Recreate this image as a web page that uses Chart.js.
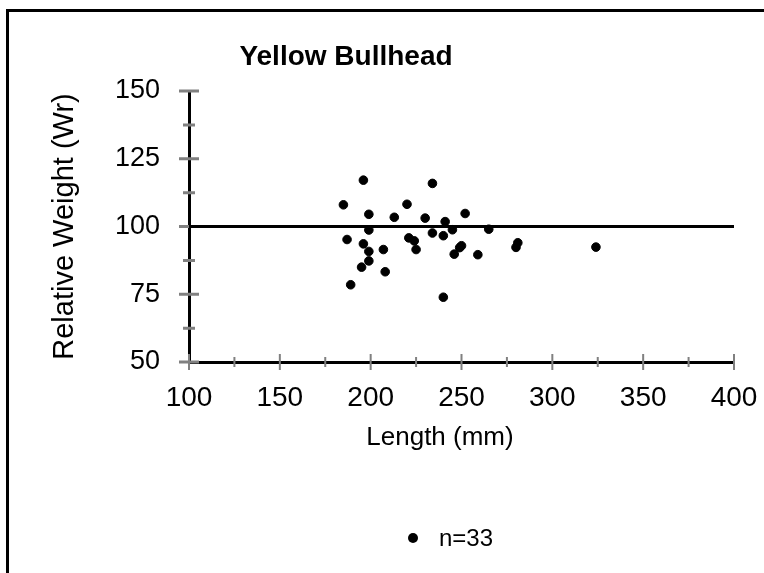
<!DOCTYPE html>
<html>
<head>
<meta charset="utf-8">
<script src="https://cdn.jsdelivr.net/npm/chart.js@4.4.1/dist/chart.umd.min.js"></script>
<style>
  html, body { margin: 0; padding: 0; background: #fff; overflow: hidden; }
  #wrap { position: relative; width: 764px; height: 573px; overflow: hidden; }
  #frame { position: absolute; left: 6px; top: 9px; width: 900px; height: 700px; border: 3px solid #000; box-sizing: border-box; }
  canvas { position: absolute; left: 0; top: 0; }
</style>
</head>
<body>
<div id="wrap">
  <div id="frame"></div>
  <canvas id="chart" width="764" height="573"></canvas>
</div>
<script>
/* ---- data ---- */
const chartTitle = 'Yellow Bullhead';
const seriesLabel = 'n=33';
const xTitle = 'Length (mm)';
const yTitle = 'Relative Weight (Wr)';

const lengthMm = [196, 234, 185, 220, 199, 213, 230, 252, 241, 199, 245, 234, 240, 187, 221, 224, 196,
  199, 207, 225, 250, 249, 246, 259, 199, 195, 208, 189, 240, 265, 281, 280, 324];
const relWeight = [117.1, 115.9, 108.0, 108.2, 104.5, 103.4, 103.1, 104.8, 101.8, 98.7, 98.8, 97.6, 96.6,
  95.2, 95.8, 94.7, 93.6, 90.8, 91.5, 91.5, 92.9, 92.2, 89.8, 89.6, 87.3, 85.0, 83.3, 78.5, 73.9,
  99.0, 94.0, 92.3, 92.4];

// standard Wr = 100 reference line
const refLineX = [100, 400];
const refLineY = [100, 100];

const xTickValues = [100, 150, 200, 250, 300, 350, 400];
const yTickValues = [50, 75, 100, 125, 150];

const FONT = '"Liberation Sans", Arial, sans-serif';

/* ---- Excel-style grey tick marks that cross the axis ---- */
const crossTicks = {
  id: 'crossTicks',
  beforeDatasetsDraw(chart) {
    const { ctx, scales: { x, y } } = chart;
    const ax = x.left, ay = y.bottom;
    ctx.save();
    ctx.strokeStyle = '#808080';
    ctx.lineWidth = 3;
    ctx.beginPath();
    for (let i = 0; i < yTickValues.length; i++) {
      const py = y.getPixelForValue(yTickValues[i]);
      ctx.moveTo(ax - 10, py); ctx.lineTo(ax + 10, py);
      if (i < yTickValues.length - 1) {
        const pm = y.getPixelForValue((yTickValues[i] + yTickValues[i + 1]) / 2);
        ctx.moveTo(ax - 6, pm); ctx.lineTo(ax + 6, pm);
      }
    }
    ctx.stroke();
    ctx.lineWidth = 2;
    ctx.beginPath();
    for (let i = 0; i < xTickValues.length; i++) {
      const px = x.getPixelForValue(xTickValues[i]);
      ctx.moveTo(px, ay - 8); ctx.lineTo(px, ay + 8);
      if (i < xTickValues.length - 1) {
        const pm = x.getPixelForValue((xTickValues[i] + xTickValues[i + 1]) / 2);
        ctx.moveTo(pm, ay - 5); ctx.lineTo(pm, ay + 5);
      }
    }
    ctx.stroke();
    ctx.restore();
  }
};

/* ---- title, x-axis title and single-entry legend, placed like the original ---- */
const headings = {
  id: 'headings',
  afterDraw(chart) {
    const { ctx, chartArea } = chart;
    ctx.save();
    ctx.fillStyle = '#000';
    ctx.textBaseline = 'middle';
    ctx.textAlign = 'center';
    ctx.font = `bold 28px ${FONT}`;
    ctx.fillText(chartTitle, chartArea.left + 157, 57);

    ctx.font = `26px ${FONT}`;
    ctx.fillText(xTitle, 440, 438);

    ctx.beginPath();
    ctx.arc(413, 538, 5, 0, Math.PI * 2);
    ctx.fill();
    ctx.textAlign = 'left';
    ctx.font = `24px ${FONT}`;
    ctx.fillText(seriesLabel, 439, 539);
    ctx.restore();
  }
};

new Chart(document.getElementById('chart'), {
  type: 'scatter',
  data: {
    datasets: [
      {
        label: seriesLabel,
        data: lengthMm.map((v, i) => ({ x: v, y: relWeight[i] })),
        backgroundColor: '#000',
        borderColor: '#000',
        pointRadius: 4.3,
        pointHoverRadius: 4.3,
        order: 1,
      },
      {
        type: 'line',
        label: 'Wr 100',
        data: refLineX.map((v, i) => ({ x: v, y: refLineY[i] })),
        borderColor: '#000',
        borderWidth: 3,
        pointRadius: 0,
        fill: false,
        order: 2,
      },
    ],
  },
  options: {
    responsive: false,
    animation: false,
    devicePixelRatio: 1,
    layout: { padding: { left: 0, right: 30, top: 91, bottom: 0 } },
    plugins: { legend: { display: false }, title: { display: false }, tooltip: { enabled: false } },
    scales: {
      x: {
        type: 'linear',
        min: xTickValues[0],
        max: xTickValues[xTickValues.length - 1],
        afterBuildTicks: (s) => { s.ticks = xTickValues.map((v) => ({ value: v })); },
        afterFit: (s) => { s.height = 211; s.paddingLeft = 0; s.paddingRight = 0; },
        grid: { display: false, drawTicks: false },
        border: { display: true, color: '#000', width: 3 },
        ticks: { color: '#000', padding: 19, font: { family: FONT, size: 28 }, maxRotation: 0 },
      },
      y: {
        type: 'linear',
        min: yTickValues[0],
        max: yTickValues[yTickValues.length - 1],
        afterBuildTicks: (s) => { s.ticks = yTickValues.map((v) => ({ value: v })); },
        afterFit: (s) => { s.width = 189; s.paddingTop = 0; s.paddingBottom = 0; },
        grid: { display: false, drawTicks: false },
        border: { display: true, color: '#000', width: 3 },
        ticks: { color: '#000', padding: 29, font: { family: FONT, size: 27 } },
        title: { display: true, text: yTitle, color: '#000', font: { family: FONT, size: 29 }, padding: { top: 48, bottom: 0 } },
      },
    },
  },
  plugins: [crossTicks, headings],
});
</script>
</body>
</html>
